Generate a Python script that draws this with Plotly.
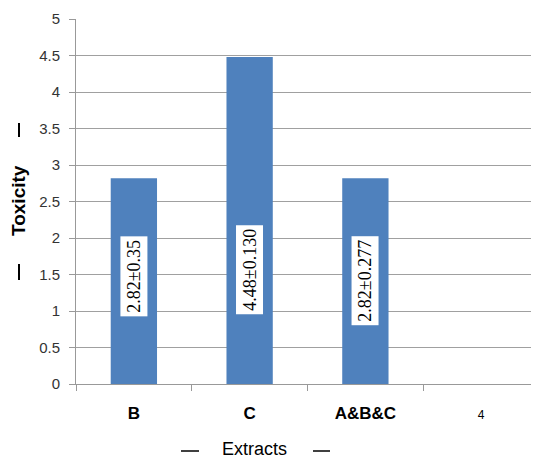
import plotly.graph_objects as go

categories = ["B", "C", "A&B&C", "4"]
toxicity = [2.82, 4.48, 2.82, None]
sd_labels = ["2.82±0.35", "4.48±0.130", "2.82±0.277", None]
label_y = [1.48, 1.56, 1.42, None]

tick_text = ["<b>B</b>", "<b>C</b>", "<b>A&B&C</b>",
             "<span style='font-size:12px;'>4</span>"]

# The page body has an 8px margin, so the figure is sized to fit the window.
W, H = 531, 452
L, T, R, B = 68, 11, 0, 76
PW, PH = W - L - R, H - T - B
OFF = 8


def px(fx):
    return (fx - OFF - L) / PW


def py(fy):
    return (H - B - (fy - OFF)) / PH


fig = go.Figure()
fig.add_trace(go.Bar(
    x=categories, y=toxicity, marker=dict(color="#4F81BD", line=dict(width=0)),
    width=0.4, showlegend=False, hoverinfo="skip"
))

for c, t, ly in zip(categories, sd_labels, label_y):
    if t is None:
        continue
    fig.add_annotation(
        x=c, y=ly, xref="x", yref="y", text=t, textangle=-90, showarrow=False,
        font=dict(family="Liberation Serif", size=18, color="black"),
        bgcolor="white", borderpad=3
    )

fig.update_layout(
    width=W, height=H,
    margin=dict(l=L, r=R, t=T, b=B, autoexpand=False),
    paper_bgcolor="white", plot_bgcolor="white",
    font=dict(family="Liberation Sans", color="#222"),
    xaxis=dict(
        type="category", categoryorder="array", categoryarray=categories,
        tickmode="array", tickvals=categories, ticktext=tick_text,
        tickfont=dict(family="Liberation Sans", size=17, color="black"),
        tickson="boundaries", ticks="outside", ticklen=6, tickcolor="#999",
        showline=True, linecolor="#999", linewidth=1, showgrid=False,
        range=[-0.5, 3.5], ticklabelstandoff=14,
    ),
    yaxis=dict(
        range=[0, 5], dtick=0.5, tickmode="linear", tick0=0,
        tickfont=dict(family="Liberation Sans", size=15, color="#333"),
        ticks="outside", ticklen=6, tickcolor="#999",
        showline=True, linecolor="#999", linewidth=1,
        showgrid=True, gridcolor="#A0A0A0", gridwidth=1, zeroline=False,
        ticklabelstandoff=6,
    ),
    bargap=0.6,
)

# Y axis title
fig.add_annotation(xref="paper", yref="paper", x=px(19), y=py(201),
                   xanchor="center", yanchor="middle", text="<b>Toxicity</b>",
                   textangle=-90, showarrow=False,
                   font=dict(family="Liberation Sans", size=19, color="black"))
# Y title dashes
for y0, y1 in ((123, 137), (264, 280)):
    fig.add_shape(type="line", xref="paper", yref="paper",
                  x0=px(19), x1=px(19), y0=py(y0), y1=py(y1),
                  line=dict(color="black", width=2))
# X axis title
fig.add_annotation(xref="paper", yref="paper", x=px(254), y=py(449),
                   xanchor="center", yanchor="middle", text="Extracts",
                   showarrow=False,
                   font=dict(family="Liberation Sans", size=18, color="black"))
for x0, x1 in ((181, 199), (313, 330)):
    fig.add_shape(type="line", xref="paper", yref="paper",
                  x0=px(x0), x1=px(x1), y0=py(451), y1=py(451),
                  line=dict(color="black", width=1.5))

fig.write_html("out.html")
